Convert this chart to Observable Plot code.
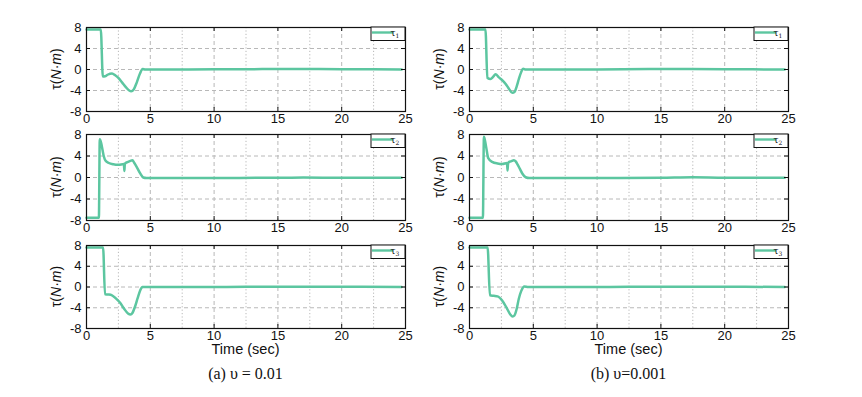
<!DOCTYPE html>
<html><head><meta charset="utf-8">
<script src="https://cdn.jsdelivr.net/npm/d3@7"></script>
<script src="https://cdn.jsdelivr.net/npm/@observablehq/plot@0.6"></script>
<style>
body{margin:0;background:#fff;}
#root{position:relative;width:862px;height:397px;overflow:hidden;background:#fff;}
#root svg{position:absolute;}
.lbl{position:absolute;text-align:center;white-space:nowrap;color:#111;}
.xl{font-family:'Liberation Sans',Arial,sans-serif;font-size:14.5px;}
.cap{font-family:'Liberation Serif','Times New Roman',serif;font-size:16px;}
</style></head><body><div id="root"></div>
<script>
// Tick values
const xTicks = [0, 5, 10, 15, 20, 25];
const xInner = [5, 10, 15, 20];
const xMinor = [2.5, 7.5, 12.5, 17.5, 22.5];
const yTicks = [-8, -4, 0, 4, 8];
const yInner = [-4, 0, 4];

// (a) υ = 0.01
const timeA1 = [0, 1.12, 1.28, 1.45, 1.65, 2.0, 2.25, 2.5, 2.8, 3.1, 3.35, 3.5, 3.7, 3.95, 4.2, 4.4, 4.6, 8, 12, 16, 20, 24.7];
const tauA1  = [7.6, 7.6, -1.35, -1.3, -1.0, -0.75, -1.1, -1.6, -2.5, -3.4, -4.0, -4.15, -3.8, -2.4, -0.7, 0.1, 0.0, 0.02, 0.05, 0.1, 0.05, 0.02];
const timeA2 = [0, 0.97, 1.04, 1.15, 1.25, 1.36, 1.5, 1.75, 2.1, 2.5, 2.93, 2.97, 3.0, 3.06, 3.25, 3.45, 3.6, 3.75, 3.95, 4.2, 4.45, 4.7, 8, 12, 17, 20, 24.7];
const tauA2  = [-7.5, -7.5, 7.1, 6.4, 5.2, 3.9, 3.1, 2.7, 2.45, 2.35, 2.5, 1.2, 2.4, 2.7, 2.9, 3.1, 3.2, 2.7, 1.9, 0.8, 0.0, -0.1, -0.1, -0.08, -0.02, -0.05, -0.05];
const timeA3 = [0, 1.3, 1.45, 1.7, 2.0, 2.3, 2.65, 2.95, 3.25, 3.45, 3.6, 3.8, 4.0, 4.2, 4.38, 4.6, 10, 15, 20, 24.7];
const tauA3  = [7.6, 7.6, -1.4, -1.45, -1.6, -2.2, -3.1, -4.2, -5.1, -5.3, -5.0, -3.8, -2.2, -0.7, 0.0, 0.0, 0.0, 0.05, 0.05, 0.0];

// (b) υ = 0.001
const timeB1 = [0, 1.25, 1.4, 1.65, 1.85, 2.04, 2.3, 2.6, 2.85, 3.1, 3.35, 3.55, 3.7, 3.87, 4.05, 4.2, 4.4, 10, 15, 20, 24.7];
const tauB1  = [7.6, 7.6, -1.6, -1.8, -1.4, -0.9, -1.5, -2.1, -2.8, -3.7, -4.45, -4.2, -3.2, -1.8, -0.5, 0.15, 0.0, 0.02, 0.08, 0.05, 0.0];
const timeB2 = [0, 1.05, 1.13, 1.22, 1.31, 1.47, 1.78, 2.2, 2.57, 2.94, 2.98, 3.02, 3.1, 3.25, 3.48, 3.62, 3.75, 3.95, 4.15, 4.4, 4.7, 10, 15, 17.5, 20, 24.7];
const tauB2  = [-7.5, -7.5, 7.6, 6.8, 5.6, 3.6, 2.9, 2.6, 2.5, 2.7, 1.3, 2.5, 2.9, 3.0, 3.2, 3.0, 2.5, 1.6, 0.7, 0.05, -0.1, -0.1, -0.05, 0.03, -0.05, -0.05];
const timeB3 = [0, 1.42, 1.6, 1.9, 2.2, 2.56, 2.95, 3.2, 3.38, 3.52, 3.7, 3.86, 4.05, 4.3, 4.6, 10, 15, 20, 24.7];
const tauB3  = [7.6, 7.6, -1.6, -1.7, -1.8, -2.6, -4.2, -5.3, -5.7, -5.5, -4.2, -2.3, -0.8, 0.1, 0.0, 0.0, 0.05, 0.05, 0.0];

const seriesNames = ["1", "2", "3"];
const captions = ["(a) υ = 0.01", "(b) υ=0.001"];
const xTitle = "Time (sec)";

const lineColor = "#5cc6a0";
const gridColor = "#b8b8b8";
const ink = "#111";

const root = document.getElementById("root");
const colLeft = [86, 469];
const rowTop = [27, 134, 245];
const rowH = [84, 86, 83];
const W = 319, mL = 50, mR = 12, mT = 5, mB = 22;

function panel(time, tau, sub, col, row) {
  const h = rowH[row];
  const data = time.map((t, i) => ({t, v: tau[i]}));
  const svg = Plot.plot({
    width: W + mL + mR, height: h + mT + mB,
    marginLeft: mL, marginRight: mR, marginTop: mT, marginBottom: mB,
    style: {fontFamily: "'Liberation Sans', Arial, sans-serif", fontSize: "13px", color: ink, background: "transparent", overflow: "visible"},
    x: {domain: [0, 25], ticks: xTicks, tickSize: 0, tickPadding: 2, tickFormat: d => String(d), label: null},
    y: {domain: [-8, 8], ticks: yTicks, tickSize: 0, tickPadding: 5, tickFormat: d => String(d), label: null},
    marks: [
      Plot.ruleX(xMinor, {stroke: gridColor, strokeDasharray: "1.2,2.2"}),
      Plot.ruleX(xInner, {stroke: gridColor, strokeDasharray: "4,3"}),
      Plot.ruleY(yInner, {stroke: gridColor, strokeDasharray: "4,3"}),
      Plot.line(data, {x: "t", y: "v", stroke: lineColor, strokeWidth: 2.5, curve: "monotone-x"}),
      Plot.ruleX(xInner, {insetTop: h - 4, stroke: ink}),
      Plot.ruleX(xInner, {insetBottom: h - 4, stroke: ink}),
      Plot.ruleY(yInner, {insetRight: W - 4, stroke: ink}),
      Plot.ruleY(yInner, {insetLeft: W - 4, stroke: ink}),
      Plot.frame({stroke: ink, strokeWidth: 1.2})
    ]
  });
  svg.style.left = (colLeft[col] - mL) + "px";
  svg.style.top = (rowTop[row] - mT) + "px";
  const s = d3.select(svg);
  // legend
  const xr = mL + W, yt = mT;
  const lg = s.append("g");
  lg.append("rect").attr("x", xr - 34).attr("y", yt).attr("width", 34).attr("height", 13.5)
    .attr("fill", "#fff").attr("stroke", ink).attr("stroke-width", 1);
  lg.append("line").attr("x1", xr - 33).attr("x2", xr - 12).attr("y1", yt + 5.5).attr("y2", yt + 5.5)
    .attr("stroke", lineColor).attr("stroke-width", 2.4);
  const lt = lg.append("text").attr("x", xr - 10).attr("y", yt + 8.5)
    .style("font-family", "'DejaVu Serif', 'Liberation Serif', serif").style("font-size", "9px").attr("fill", ink);
  lt.append("tspan").text("τ");
  lt.append("tspan").attr("dy", 2).style("font-size", "6px").text(sub);
  // y label
  const yl = s.append("text")
    .attr("transform", `translate(${mL - 25},${mT + h / 2}) rotate(-90)`)
    .attr("text-anchor", "middle").attr("fill", ink)
    .style("font-size", "14px").style("font-family", "'Liberation Sans', Arial, sans-serif");
  yl.append("tspan").text("τ(");
  yl.append("tspan").attr("font-style", "italic").text("N");
  yl.append("tspan").text("·");
  yl.append("tspan").attr("font-style", "italic").text("m");
  yl.append("tspan").text(")");
  root.appendChild(svg);
}

panel(timeA1, tauA1, seriesNames[0], 0, 0);
panel(timeA2, tauA2, seriesNames[1], 0, 1);
panel(timeA3, tauA3, seriesNames[2], 0, 2);
panel(timeB1, tauB1, seriesNames[0], 1, 0);
panel(timeB2, tauB2, seriesNames[1], 1, 1);
panel(timeB3, tauB3, seriesNames[2], 1, 2);

for (let c = 0; c < 2; c++) {
  const xt = document.createElement("div");
  xt.className = "lbl xl";
  xt.style.left = colLeft[c] + "px"; xt.style.width = W + "px"; xt.style.top = "341px";
  xt.textContent = xTitle;
  root.appendChild(xt);
  const cp = document.createElement("div");
  cp.className = "lbl cap";
  cp.style.left = colLeft[c] + "px"; cp.style.width = W + "px"; cp.style.top = "365px";
  cp.textContent = captions[c];
  root.appendChild(cp);
}
</script></body></html>
